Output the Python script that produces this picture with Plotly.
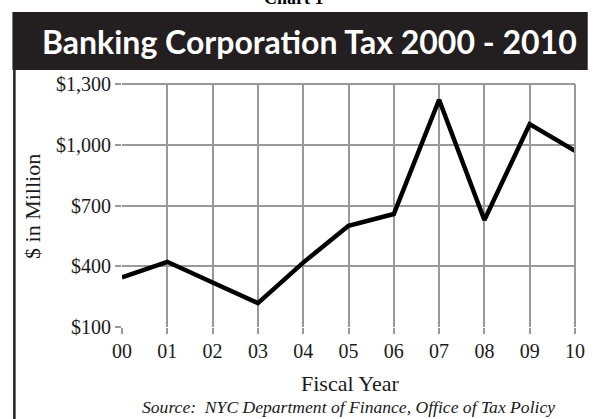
import plotly.graph_objects as go

# Banking Corporation Tax collections, $ millions, by fiscal year
fiscal_years = ["00", "01", "02", "03", "04", "05", "06", "07", "08", "09", "10"]
tax_millions = [345, 422, 320, 218, 418, 600, 658, 1222, 628, 1102, 970]
y_ticks = [100, 400, 700, 1000, 1300]
y_tick_labels = ["$100", "$400", "$700", "$1,000", "$1,300"]

W, H = 596, 419
L, R, T, B = 122, 11, 84, 92
pw, ph = W - L - R, H - T - B


def px_x(x):
    return (x - L) / pw


def px_y(y):
    return (H - B - y) / ph


serif = "Liberation Serif"
dark = "#231f20"
grid = "#999999"

fig = go.Figure()
fig.add_trace(go.Scatter(
    x=list(range(len(fiscal_years))), y=tax_millions, mode="lines",
    line=dict(color="black", width=4.5), hoverinfo="skip", showlegend=False,
))

fig.update_layout(
    width=W, height=H,
    margin=dict(l=L, r=R, t=T, b=B),
    paper_bgcolor="white", plot_bgcolor="white",
    showlegend=False,
    xaxis=dict(
        range=[0, len(fiscal_years) - 1],
        tickmode="array", tickvals=list(range(len(fiscal_years))), ticktext=fiscal_years,
        showgrid=True, gridcolor=grid, gridwidth=2,
        zeroline=False, showline=False,
        ticks="outside", ticklen=6, tickwidth=2, tickcolor=grid,
        tickfont=dict(family=serif, size=20, color="#1a1a1a"),
    ),
    yaxis=dict(
        range=[100, 1300],
        tickmode="array", tickvals=y_ticks, ticktext=y_tick_labels,
        showgrid=True, gridcolor=grid, gridwidth=2,
        zeroline=False, showline=False,
        ticks="outside", ticklen=6, tickwidth=2, tickcolor=grid,
        tickfont=dict(family=serif, size=20, color="#1a1a1a"),
    ),
    shapes=[
        # title banner
        dict(type="rect", xref="paper", yref="paper",
             x0=px_x(10), x1=px_x(W + 2), y0=px_y(70), y1=px_y(12),
             fillcolor=dark, line=dict(width=0), layer="below"),
        # left frame rule
        dict(type="line", xref="paper", yref="paper",
             x0=px_x(12), x1=px_x(12), y0=px_y(70), y1=px_y(H + 2),
             line=dict(color=dark, width=2.5)),
        # right and top edges of the plot grid
        dict(type="line", xref="paper", yref="paper",
             x0=1, x1=1, y0=0, y1=1, line=dict(color=grid, width=2)),
        dict(type="line", xref="paper", yref="paper",
             x0=0, x1=1, y0=1, y1=1, line=dict(color=grid, width=2)),
    ],
    annotations=[
        dict(text="Banking Corporation Tax 2000 - 2010", xref="paper", yref="paper",
             x=px_x(314), y=px_y(41), xanchor="center", yanchor="middle", showarrow=False,
             font=dict(family="Lato", size=32, color="white", weight="bold")),
        dict(text="Chart 1", xref="paper", yref="paper",
             x=px_x(298), y=px_y(-2), xanchor="center", yanchor="middle", showarrow=False,
             font=dict(family=serif, size=18, color="black", weight="bold")),
        # axis titles
        dict(text="$ in Million", xref="paper", yref="paper",
             x=px_x(30), y=px_y(206), xanchor="center", yanchor="middle", showarrow=False,
             textangle=-90, font=dict(family=serif, size=22, color="#1a1a1a")),
        dict(text="Fiscal Year", xref="paper", yref="paper",
             x=px_x(355), y=px_y(383), xanchor="center", yanchor="middle", showarrow=False,
             font=dict(family=serif, size=22, color="#1a1a1a")),
        dict(text="<i>Source:  NYC Department of Finance, Office of Tax Policy</i>",
             xref="paper", yref="paper",
             x=px_x(353), y=px_y(407), xanchor="center", yanchor="middle", showarrow=False,
             font=dict(family=serif, size=17.6, color="#1a1a1a")),
    ],
)

fig.write_html("out.html")
